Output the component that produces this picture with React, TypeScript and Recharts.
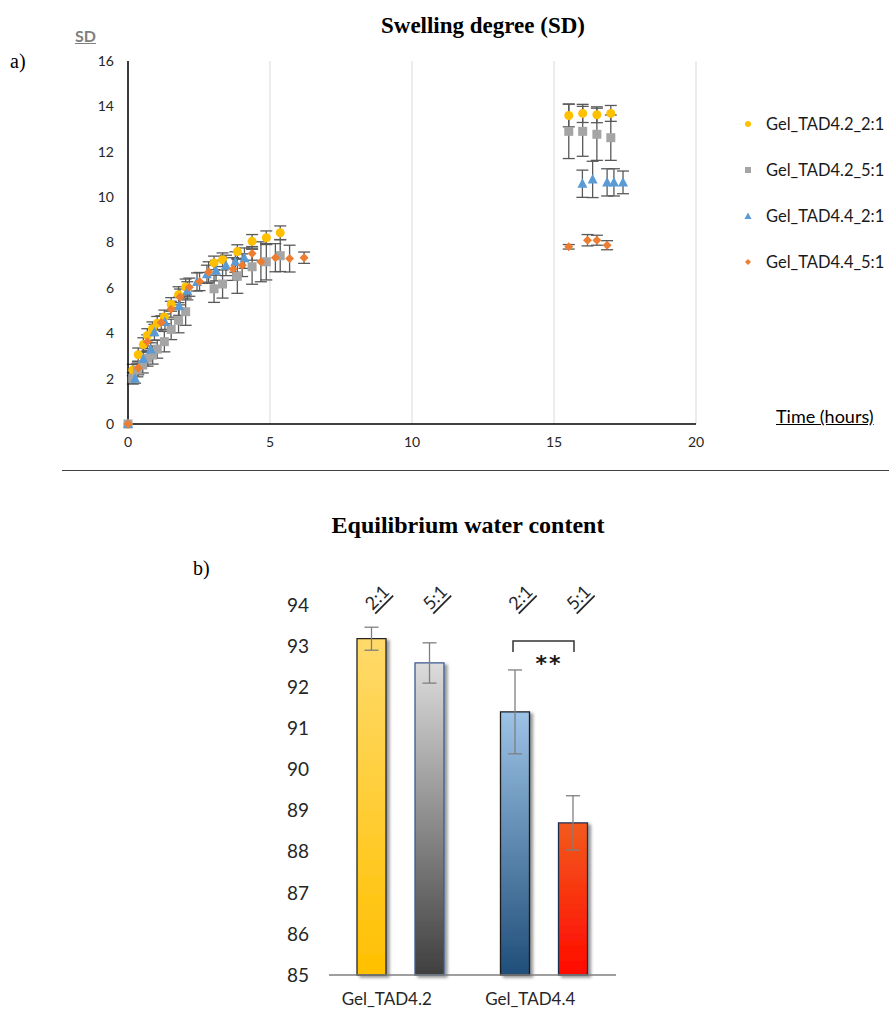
import {
  Bar,
  BarChart,
  CartesianGrid,
  Cell,
  ErrorBar,
  LabelList,
  Scatter,
  ScatterChart,
  XAxis,
  YAxis,
} from "recharts";

// a) swelling degree over time (hours)
const g42r21Time = [0, 0.17, 0.36, 0.54, 0.68, 0.86, 1.03, 1.28, 1.52, 1.78, 2.03, 3.03, 3.33, 3.85, 4.37, 4.87, 5.36, 15.52, 16.01, 16.51, 17.0];
const g42r21SD = [0, 2.38, 3.05, 3.5, 3.9, 4.2, 4.44, 4.72, 5.27, 5.7, 6.04, 7.1, 7.24, 7.6, 8.05, 8.21, 8.43, 13.6, 13.69, 13.63, 13.69];
const g42r21Err = [0, 0.25, 0.3, 0.3, 0.3, 0.3, 0.3, 0.3, 0.3, 0.35, 0.35, 0.3, 0.3, 0.3, 0.3, 0.3, 0.3, 0.5, 0.4, 0.35, 0.35];

const g42r51Time = [0, 0.17, 0.33, 0.52, 0.69, 0.87, 1.03, 1.28, 1.52, 1.78, 2.03, 3.03, 3.33, 3.85, 4.37, 4.87, 5.36, 15.52, 16.01, 16.51, 17.0];
const g42r51SD = [0, 2.01, 2.38, 2.6, 2.9, 3.04, 3.3, 3.63, 4.17, 4.57, 4.95, 5.96, 6.17, 6.51, 6.93, 7.15, 7.42, 12.9, 12.9, 12.77, 12.62];
const g42r51Err = [0, 0.25, 0.3, 0.35, 0.35, 0.4, 0.4, 0.45, 0.45, 0.55, 0.6, 0.6, 0.62, 0.75, 0.77, 0.8, 0.7, 1.2, 1.1, 1.15, 1.0];

const g44r21Time = [0, 0.25, 0.54, 0.8, 0.93, 1.3, 1.8, 2.09, 2.43, 2.78, 3.1, 3.45, 3.78, 4.1, 16.0, 16.36, 16.87, 17.11, 17.43];
const g44r21SD = [0, 2.0, 2.86, 3.28, 4.04, 4.5, 5.19, 5.87, 6.26, 6.6, 6.76, 6.99, 7.14, 7.31, 10.59, 10.78, 10.65, 10.65, 10.65];
const g44r21Err = [0, 0.2, 0.3, 0.3, 0.35, 0.35, 0.4, 0.4, 0.4, 0.4, 0.45, 0.45, 0.45, 0.45, 0.6, 0.8, 0.6, 0.6, 0.5];

const g44r51Time = [0, 0.36, 0.68, 1.17, 1.51, 1.83, 2.16, 2.52, 2.84, 3.7, 4.02, 4.37, 4.68, 5.19, 5.69, 6.2, 15.52, 16.18, 16.51, 16.87];
const g44r51SD = [0, 2.47, 3.63, 4.47, 5.06, 5.6, 6.03, 6.28, 6.7, 6.83, 7.0, 7.52, 7.15, 7.33, 7.29, 7.33, 7.81, 8.1, 8.1, 7.88];
const g44r51Err = [0, 0.3, 0.3, 0.3, 0.35, 0.35, 0.4, 0.4, 0.45, 0.5, 0.5, 0.3, 0.88, 0.62, 0.59, 0.25, 0.1, 0.25, 0.22, 0.2];

const timeTicks = [0, 5, 10, 15, 20];
const sdTicks = [0, 2, 4, 6, 8, 10, 12, 14, 16];

// b) equilibrium water content
const gelNames = ["Gel_TAD4.2", "Gel_TAD4.4"];
const ratioLabels = ["2:1", "5:1"];
const ewc21 = [93.18, 91.4];
const ewc51 = [92.59, 88.7];
const ewcErr21 = [0.28, 1.02];
const ewcErr51 = [0.49, 0.66];
const ewcTicks = [85, 86, 87, 88, 89, 90, 91, 92, 93, 94];

const toPoints = (t: number[], v: number[], e: number[]) =>
  t.map((x, i) => ({ t: x, v: v[i], err: e[i] }));

const FONT = "Lato, 'Open Sans', sans-serif";
const SERIF = "'Liberation Serif', serif";

const Dot = (p: any) => <circle cx={p.cx} cy={p.cy} r={4.5} fill="#FFC000" />;
const Sq = (p: any) => <rect x={p.cx - 4.5} y={p.cy - 4.5} width={9} height={9} fill="#A5A5A5" />;
const Tri = (p: any) => (
  <polygon points={`${p.cx},${p.cy - 5.5} ${p.cx + 5},${p.cy + 4} ${p.cx - 5},${p.cy + 4}`} fill="#5B9BD5" />
);
const Dia = (p: any) => (
  <polygon points={`${p.cx},${p.cy - 4.5} ${p.cx + 4.5},${p.cy} ${p.cx},${p.cy + 4.5} ${p.cx - 4.5},${p.cy}`} fill="#ED7D31" />
);

const series = [
  { name: "Gel_TAD4.2_2:1", data: toPoints(g42r21Time, g42r21SD, g42r21Err), shape: Dot },
  { name: "Gel_TAD4.2_5:1", data: toPoints(g42r51Time, g42r51SD, g42r51Err), shape: Sq },
  { name: "Gel_TAD4.4_2:1", data: toPoints(g44r21Time, g44r21SD, g44r21Err), shape: Tri },
  { name: "Gel_TAD4.4_5:1", data: toPoints(g44r51Time, g44r51SD, g44r51Err), shape: Dia },
];

const legendIcons = [
  <circle cx={6} cy={6} r={3} fill="#FFC000" />,
  <rect x={3} y={3} width={6} height={6} fill="#A5A5A5" />,
  <polygon points="6,2.5 9.5,9 2.5,9" fill="#5B9BD5" />,
  <polygon points="6,3 9,6 6,9 3,6" fill="#ED7D31" />,
];

const barData = gelNames.map((name, i) => ({
  name,
  r21: ewc21[i],
  r51: ewc51[i],
  e21: ewcErr21[i],
  e51: ewcErr51[i],
  l21: ratioLabels[0],
  l51: ratioLabels[1],
}));

const fill21 = ["url(#gYellow)", "url(#gBlue)"];
const fill51 = ["url(#gGray)", "url(#gRed)"];
const stroke21 = ["#262626", "#1a1a1a"];
const stroke51 = ["#3B5A91", "#1F2D4F"];

const RatioLabel = (props: any) => {
  const { x, width, value } = props;
  const cx = x + width / 2 + 5;
  const cy = 117;
  return (
    <text
      x={cx}
      y={cy}
      transform={`rotate(-45, ${cx}, ${cy})`}
      textAnchor="middle"
      dominantBaseline="central"
      fontFamily={FONT}
      fontSize={18}
      fill="#262626"
      textDecoration="underline"
    >
      {value}
    </text>
  );
};

export default function App() {
  return (
    <div style={{ position: "absolute", left: 0, top: 0, width: 889, height: 1012, background: "#fff", overflow: "hidden" }}>
      <div style={{ position: "absolute", left: 0, top: 13, width: 966, textAlign: "center", fontFamily: SERIF, fontWeight: "bold", fontSize: 23 }}>
        Swelling degree (SD)
      </div>
      <div style={{ position: "absolute", left: 10, top: 50, fontFamily: SERIF, fontSize: 20 }}>a)</div>
      <div style={{ position: "absolute", left: 75, top: 26, fontFamily: FONT, fontWeight: "bold", fontSize: 16, color: "#7F7F7F", textDecoration: "underline" }}>
        SD
      </div>
      <div style={{ position: "absolute", left: 776, top: 405, fontFamily: FONT, fontSize: 18, color: "#000", textDecoration: "underline" }}>
        Time (hours)
      </div>

      <div style={{ position: "absolute", left: 0, top: 0 }}>
        <ScatterChart width={889} height={470} margin={{ top: 61, right: 193, bottom: 16, left: 88 }}>
          <CartesianGrid horizontal={false} stroke="#D9D9D9" />
          <XAxis
            type="number"
            dataKey="t"
            domain={[0, 20]}
            ticks={timeTicks}
            height={30}
            tickLine={false}
            tickSize={0}
            tickMargin={13}
            stroke="#000"
            strokeWidth={1.5}
            tick={{ fill: "#262626", fontSize: 14, fontFamily: FONT }}
          />
          <YAxis
            type="number"
            dataKey="v"
            domain={[0, 16]}
            ticks={sdTicks}
            width={40}
            tickLine={false}
            tickSize={0}
            tickMargin={14}
            stroke="#000"
            strokeWidth={1.5}
            tick={{ fill: "#262626", fontSize: 14, fontFamily: FONT }}
          />
          {series.map((s) => (
            <Scatter key={s.name} name={s.name} data={s.data} shape={s.shape} isAnimationActive={false}>
              <ErrorBar dataKey="err" direction="y" width={6} stroke="#595959" strokeWidth={1.3} />
            </Scatter>
          ))}
        </ScatterChart>
      </div>

      <div style={{ position: "absolute", left: 742, top: 101, width: 147, fontFamily: FONT, fontSize: 16.5, color: "#1a1a1a" }}>
        {series.map((s, i) => (
          <div key={s.name} style={{ display: "flex", alignItems: "center", height: 46, whiteSpace: "nowrap" }}>
            <svg width={12} height={12} style={{ marginRight: 12, flex: "none" }}>
              {legendIcons[i]}
            </svg>
            <span>{s.name}</span>
          </div>
        ))}
      </div>

      <div style={{ position: "absolute", left: 62, top: 470, width: 827, height: 1, background: "#404040" }} />

      <div style={{ position: "absolute", left: 0, top: 512, width: 936, textAlign: "center", fontFamily: SERIF, fontWeight: "bold", fontSize: 24 }}>
        Equilibrium water content
      </div>
      <div style={{ position: "absolute", left: 193, top: 557, fontFamily: SERIF, fontSize: 20 }}>b)</div>

      <div style={{ position: "absolute", left: 0, top: 480 }}>
        <BarChart
          width={640}
          height={532}
          data={barData}
          margin={{ top: 125, right: 24, bottom: 7, left: 279 }}
          barSize={29}
          barGap={29}
        >
          <defs>
            <linearGradient id="gYellow" x1="0" y1="0" x2="0" y2="1">
              <stop offset="0%" stopColor="#FFDA6B" />
              <stop offset="100%" stopColor="#FFC000" />
            </linearGradient>
            <linearGradient id="gGray" x1="0" y1="0" x2="0" y2="1">
              <stop offset="0%" stopColor="#DCDCDC" />
              <stop offset="100%" stopColor="#3F3F3F" />
            </linearGradient>
            <linearGradient id="gBlue" x1="0" y1="0" x2="0" y2="1">
              <stop offset="0%" stopColor="#9DC3E6" />
              <stop offset="100%" stopColor="#1F4E79" />
            </linearGradient>
            <linearGradient id="gRed" x1="0" y1="0" x2="0" y2="1">
              <stop offset="0%" stopColor="#F25A1C" />
              <stop offset="100%" stopColor="#FF0A00" />
            </linearGradient>
            <filter id="barShadow" x="-20%" y="-5%" width="150%" height="115%">
              <feDropShadow dx="3" dy="2" stdDeviation="1.8" floodColor="#000" floodOpacity="0.4" />
            </filter>
          </defs>
          <XAxis
            dataKey="name"
            height={30}
            tickLine={false}
            tickSize={0}
            tickMargin={18}
            stroke="#7F7F7F"
            strokeWidth={1.5}
            tick={{ fill: "#262626", fontSize: 17, fontFamily: FONT, dx: -14 }}
          />
          <YAxis
            type="number"
            domain={[85, 94]}
            ticks={ewcTicks}
            width={50}
            axisLine={false}
            tickLine={false}
            tickSize={0}
            tickMargin={20}
            tick={{ fill: "#262626", fontSize: 19, fontFamily: FONT }}
          />
          <Bar dataKey="r21" isAnimationActive={false} strokeWidth={1.3}>
            {barData.map((d, i) => (
              <Cell key={d.name} fill={fill21[i]} stroke={stroke21[i]} filter="url(#barShadow)" />
            ))}
            <ErrorBar dataKey="e21" direction="y" width={7} stroke="#7F7F7F" strokeWidth={1.3} />
            <LabelList dataKey="l21" content={RatioLabel} />
          </Bar>
          <Bar dataKey="r51" isAnimationActive={false} strokeWidth={1.3}>
            {barData.map((d, i) => (
              <Cell key={d.name} fill={fill51[i]} stroke={stroke51[i]} filter="url(#barShadow)" />
            ))}
            <ErrorBar dataKey="e51" direction="y" width={7} stroke="#7F7F7F" strokeWidth={1.3} />
            <LabelList dataKey="l51" content={RatioLabel} />
          </Bar>
        </BarChart>
      </div>

      <svg style={{ position: "absolute", left: 0, top: 0 }} width={889} height={1012} pointerEvents="none">
        <path d="M513,652 V641 H574 V652" fill="none" stroke="#333" strokeWidth={1.5} />
        <text x={549} y={663} textAnchor="middle" dominantBaseline="central" fontFamily="'DejaVu Sans', sans-serif" fontWeight="bold" fontSize={22} letterSpacing={2} fill="#1a1a1a">
          **
        </text>
      </svg>
    </div>
  );
}
